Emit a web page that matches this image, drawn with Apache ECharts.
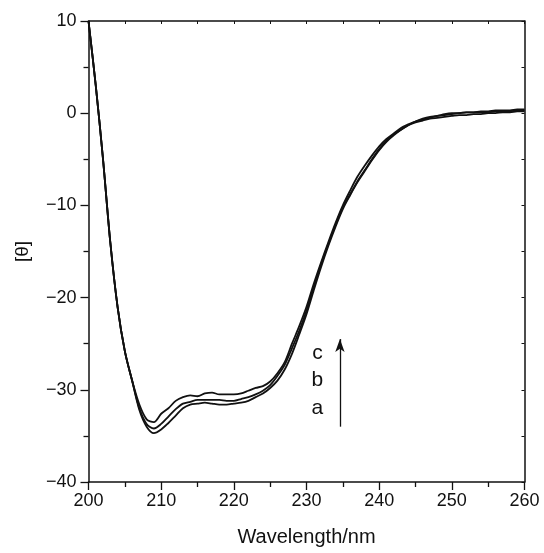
<!DOCTYPE html>
<html>
<head>
<meta charset="utf-8">
<script src="https://cdn.jsdelivr.net/npm/echarts@6/dist/echarts.min.js"></script>
<style>html,body{margin:0;padding:0;background:#fff}#c{width:544px;height:553px}</style>
</head>
<body>
<div id="c"></div>
<script>
// wavelength (nm), 1 nm steps
const wavelength = [200,201,202,203,204,205,206,207,208,209,210,211,212,213,214,215,216,217,218,219,220,
  221,222,223,224,225,226,227,228,229,230,231,232,233,234,235,236,237,238,239,240,
  241,242,243,244,245,246,247,248,249,250,251,252,253,254,255,256,257,258,259,260];

const curveA = [10,3.0,-5.0,-14.0,-21.0,-25.8,-29.0,-32.2,-34.0,-34.7,-34.3,-33.6,-32.8,-32.0,-31.6,-31.5,-31.4,-31.5,-31.6,-31.6,-31.5,
  -31.4,-31.2,-30.8,-30.4,-29.8,-29.0,-27.8,-26.1,-24.0,-21.8,-19.2,-16.7,-14.4,-12.3,-10.4,-8.9,-7.5,-6.3,-5.1,-4.0,
  -3.1,-2.4,-1.8,-1.3,-1.0,-0.8,-0.6,-0.5,-0.4,-0.3,-0.2,-0.2,-0.1,-0.1,0.0,0.0,0.1,0.1,0.2,0.2];

const curveB = [10,3.0,-5.0,-14.0,-21.0,-25.8,-29.0,-32.0,-33.7,-34.2,-33.7,-32.9,-32.1,-31.5,-31.3,-31.1,-31.1,-31.1,-31.1,-31.2,-31.2,
  -31.0,-30.8,-30.5,-30.1,-29.5,-28.5,-27.3,-25.5,-23.6,-21.4,-18.8,-16.4,-14.2,-12.1,-10.2,-8.8,-7.4,-6.2,-5.0,-3.9,
  -3.0,-2.3,-1.8,-1.3,-0.9,-0.7,-0.5,-0.3,-0.2,-0.1,0.0,0.1,0.1,0.2,0.2,0.3,0.3,0.3,0.4,0.4];

const curveC = [10,3.0,-5.0,-14.0,-21.0,-25.8,-29.0,-31.6,-33.2,-33.5,-32.6,-32.0,-31.2,-30.8,-30.6,-30.7,-30.4,-30.3,-30.5,-30.5,-30.5,
  -30.4,-30.1,-29.8,-29.6,-29.1,-28.2,-27.0,-25.0,-23.1,-21.0,-18.5,-16.2,-14.0,-11.9,-10.0,-8.4,-6.9,-5.7,-4.6,-3.6,
  -2.8,-2.2,-1.6,-1.2,-0.9,-0.6,-0.4,-0.3,-0.1,0.0,0.0,0.1,0.1,0.1,0.1,0.2,0.2,0.2,0.3,0.3];

const xTicks = [200,210,220,230,240,250,260];
const yTicks = [-40,-30,-20,-10,0,10];

// annotation: labels and arrow (data coordinates)
const annoLabels = [['c',231.5,-26.0],['b',231.5,-29.0],['a',231.5,-32.0]];
const arrowFrom = [234.6,-34.0];
const arrowTo = [234.6,-24.5];

const FONT = 'Liberation Sans, Arial, Helvetica, sans-serif';
const fmt = v => String(v).replace('-', '\u2212');
const pair = ys => wavelength.map((x,i)=>[x, ys[i]]);

const chart = echarts.init(document.getElementById('c'), null, {renderer:'canvas'});
const lineStyle = {color:'#111', width:1.8};
const axisLine = {show:true, onZero:false, lineStyle:{color:'#111', width:1.5}};

chart.setOption({
  animation:false,
  backgroundColor:'#fff',
  grid:{left:88.5, right:19.5, top:21, bottom:71},
  xAxis:[{
    type:'value', min:200, max:260, interval:10, position:'bottom',
    name:'Wavelength/nm', nameLocation:'middle', nameGap:45,
    nameTextStyle:{fontFamily:FONT, fontSize:20, color:'#111'},
    axisLine, splitLine:{show:false},
    axisTick:{show:true, inside:false, length:8, lineStyle:{color:'#111', width:1.3}},
    minorTick:{show:true, splitNumber:2, length:5, lineStyle:{color:'#111', width:1.3}},
    axisLabel:{margin:10, fontFamily:FONT, fontSize:18, color:'#111', formatter: v => xTicks.includes(v) ? fmt(v) : ''}
  },{
    type:'value', min:200, max:260, interval:5, position:'top',
    axisLine, splitLine:{show:false},
    axisTick:{show:true, inside:true, length:3, lineStyle:{color:'#111', width:1}},
    axisLabel:{show:false}
  }],
  yAxis:[{
    type:'value', min:-40, max:10, interval:10, position:'left',
    name:'[\u03b8]', nameLocation:'middle', nameGap:56, nameRotate:90,
    nameTextStyle:{fontFamily:FONT, fontSize:19, color:'#111'},
    axisLine, splitLine:{show:false},
    axisTick:{show:true, inside:false, length:8, lineStyle:{color:'#111', width:1.3}},
    minorTick:{show:true, splitNumber:2, length:5, lineStyle:{color:'#111', width:1.3}},
    axisLabel:{margin:12, fontFamily:FONT, fontSize:18, color:'#111', formatter: v => yTicks.includes(v) ? fmt(v) : ''}
  },{
    type:'value', min:-40, max:10, interval:5, position:'right',
    axisLine, splitLine:{show:false},
    axisTick:{show:true, inside:true, length:3, lineStyle:{color:'#111', width:1}},
    axisLabel:{show:false}
  }],
  series:[
    {name:'a', type:'line', data:pair(curveA), smooth:0.3, showSymbol:false, lineStyle, z:3},
    {name:'b', type:'line', data:pair(curveB), smooth:0.3, showSymbol:false, lineStyle, z:3},
    {name:'c', type:'line', data:pair(curveC), smooth:0.3, showSymbol:false, lineStyle, z:3},
    {
      name:'anno', type:'scatter', symbolSize:0, silent:true,
      itemStyle:{color:'#111', opacity:1},
      data: annoLabels.map(d=>({value:[d[1],d[2]], name:d[0]})),
      label:{show:true, position:'inside', formatter:p=>p.name, fontFamily:FONT, fontSize:21, color:'#111', opacity:1},
      markLine:{
        silent:true, symbol:['none','arrow'], symbolSize:[7,13],
        label:{show:false},
        lineStyle:{color:'#111', width:1.3, type:'solid', opacity:1},
        data:[[{coord:arrowFrom},{coord:arrowTo}]]
      }
    }
  ]
});
</script>
</body>
</html>
